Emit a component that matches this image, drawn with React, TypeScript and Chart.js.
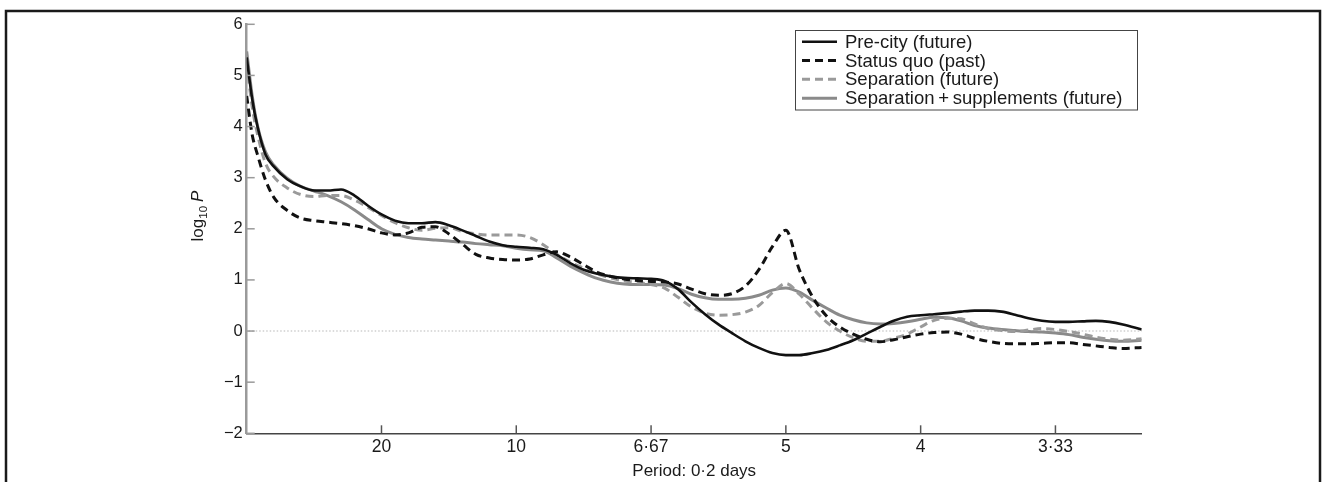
import React, { useEffect, useRef } from 'react';
import { Chart, registerables } from 'chart.js';

Chart.register(...registerables);

// Frequency grid (cycles per 0.2-day step)
const FREQ = [
  0, 0.002, 0.004, 0.007, 0.01,
  0.015, 0.02, 0.025, 0.03, 0.035, 0.04, 0.045, 0.05, 0.055, 0.06,
  0.065, 0.07, 0.075, 0.08, 0.085, 0.09, 0.095, 0.1, 0.105, 0.11,
  0.115, 0.12, 0.125, 0.13, 0.135, 0.14, 0.145, 0.15, 0.155, 0.16,
  0.165, 0.17, 0.175, 0.18, 0.185, 0.19, 0.195, 0.2, 0.205, 0.21,
  0.215, 0.22, 0.225, 0.23, 0.235, 0.24, 0.245, 0.25, 0.255, 0.26,
  0.265, 0.27, 0.275, 0.28, 0.285, 0.29, 0.295, 0.3, 0.305, 0.31,
  0.315, 0.32, 0.325,
  0.332,
];

const PRE_CITY = [
  5.35, 4.55, 4.0, 3.45, 3.22,
  2.97, 2.83, 2.75, 2.75, 2.77, 2.65, 2.45, 2.28, 2.16, 2.11,
  2.11, 2.13, 2.07, 1.97, 1.86, 1.75, 1.68, 1.65, 1.63, 1.6,
  1.49, 1.33, 1.2, 1.12, 1.07, 1.04, 1.03, 1.02, 0.98, 0.82,
  0.56, 0.33, 0.13, -0.04, -0.2, -0.33, -0.43, -0.47, -0.47, -0.43,
  -0.37, -0.28, -0.18, -0.05, 0.08, 0.2, 0.28, 0.31, 0.33, 0.35,
  0.38, 0.4, 0.4, 0.38, 0.32, 0.25, 0.2, 0.18, 0.18, 0.19,
  0.2, 0.18, 0.13,
  0.03,
];

const STATUS_QUO = [
  4.6, 3.85, 3.45, 2.95, 2.62,
  2.36, 2.21, 2.16, 2.13, 2.1, 2.06, 2.0, 1.92, 1.88, 1.92,
  2.03, 2.04, 1.9, 1.7, 1.5, 1.43, 1.4, 1.39, 1.41, 1.49,
  1.55, 1.45, 1.3, 1.15, 1.07, 1.02, 0.99, 0.97, 0.96, 0.92,
  0.82, 0.73, 0.7, 0.73, 0.88, 1.2, 1.65, 1.97, 1.2, 0.66,
  0.3, 0.08, -0.06, -0.16, -0.21, -0.17, -0.11, -0.06, -0.03, -0.02,
  -0.06, -0.14, -0.2, -0.24, -0.25, -0.25, -0.24, -0.23, -0.23, -0.26,
  -0.29, -0.32, -0.34,
  -0.32,
];

const SEPARATION = [
  5.25, 4.4, 3.85, 3.28, 3.02,
  2.8, 2.67, 2.63, 2.65, 2.65, 2.56, 2.42, 2.26, 2.12, 2.02,
  1.97, 2.01, 2.02, 1.95, 1.9, 1.88, 1.88, 1.88, 1.83, 1.69,
  1.5, 1.35, 1.23, 1.12, 1.04, 0.98, 0.95, 0.91, 0.84, 0.66,
  0.47, 0.35, 0.31, 0.32, 0.37, 0.5, 0.75, 0.93, 0.72, 0.44,
  0.18, 0.0, -0.13, -0.2, -0.2, -0.14, -0.06, 0.08, 0.21, 0.25,
  0.24, 0.14, 0.05, 0.01, -0.01, 0.02, 0.05, 0.03, -0.01, -0.06,
  -0.12, -0.16, -0.18,
  -0.15,
];

const SEPARATION_SUPP = [
  5.47, 4.62, 4.02, 3.5, 3.25,
  2.99, 2.83, 2.74, 2.65, 2.53, 2.37, 2.18, 2.0, 1.89, 1.83,
  1.8, 1.78, 1.76, 1.74, 1.71, 1.69, 1.67, 1.62, 1.59, 1.57,
  1.43, 1.27, 1.14, 1.03, 0.96, 0.92, 0.91, 0.91, 0.9, 0.83,
  0.72, 0.65, 0.62, 0.62, 0.64, 0.7, 0.8, 0.84, 0.76, 0.6,
  0.45, 0.31, 0.22, 0.16, 0.14, 0.15, 0.18, 0.23, 0.27, 0.26,
  0.2, 0.11, 0.06, 0.03, 0.01, -0.01, -0.02, -0.04, -0.07, -0.12,
  -0.16, -0.19, -0.2,
  -0.18,
];

const SERIES_LABELS = [
  'Pre-city (future)',
  'Status quo (past)',
  'Separation (future)',
  'Separation\u2009+\u2009supplements (future)',
];

const X_TICK_FREQS = [0.05, 0.1, 0.15, 0.2, 0.25, 0.3];
const X_TICK_LABELS = ['20', '10', '6\u00b767', '5', '4', '3\u00b733'];
const Y_TICKS = [-2, -1, 0, 1, 2, 3, 4, 5, 6];
const X_TITLE = 'Period: 0\u00b72 days';

const FONT = '"Liberation Sans", Arial, Helvetica, sans-serif';

const STYLES = [
  { color: '#111111', width: 2.6, dash: [] as number[] },
  { color: '#111111', width: 3, dash: [8, 5] },
  { color: '#9a9a9a', width: 3, dash: [8, 5] },
  { color: '#8a8a8a', width: 3, dash: [] as number[] },
];

const decorPlugin = {
  id: 'decor',
  beforeDraw(chart: any) {
    const { ctx, width, height } = chart;
    ctx.save();
    ctx.fillStyle = '#ffffff';
    ctx.fillRect(0, 0, width, height);
    ctx.restore();
  },
  beforeDatasetsDraw(chart: any) {
    const { ctx, chartArea, scales } = chart;
    const y0 = scales.y.getPixelForValue(0);
    ctx.save();
    ctx.strokeStyle = '#cfcfcf';
    ctx.lineWidth = 1.5;
    ctx.setLineDash([1.5, 2]);
    ctx.beginPath();
    ctx.moveTo(chartArea.left + 2, y0);
    ctx.lineTo(chartArea.right, y0);
    ctx.stroke();
    ctx.restore();
  },
  afterDraw(chart: any) {
    const { ctx, chartArea, scales } = chart;
    ctx.save();
    // inward tick marks, y axis
    ctx.strokeStyle = '#9a9a9a';
    ctx.lineWidth = 1.5;
    Y_TICKS.forEach((v) => {
      const py = scales.y.getPixelForValue(v);
      ctx.beginPath();
      ctx.moveTo(chartArea.left, py);
      ctx.lineTo(chartArea.left + 8, py);
      ctx.stroke();
    });
    // inward tick marks, x axis
    ctx.strokeStyle = '#555555';
    X_TICK_FREQS.forEach((f) => {
      const px = scales.x.getPixelForValue(f);
      ctx.beginPath();
      ctx.moveTo(px, chartArea.bottom);
      ctx.lineTo(px, chartArea.bottom - 8);
      ctx.stroke();
    });

    // y axis title: log10 P
    ctx.fillStyle = '#1a1a1a';
    ctx.translate(198, 216);
    ctx.rotate(-Math.PI / 2);
    ctx.textBaseline = 'alphabetic';
    const mainFont = `17px ${FONT}`;
    const subFont = `11.5px ${FONT}`;
    const itFont = `italic 17px ${FONT}`;
    ctx.font = mainFont;
    const wLog = ctx.measureText('log').width;
    ctx.font = subFont;
    const wSub = ctx.measureText('10').width;
    ctx.font = itFont;
    const wP = ctx.measureText('P').width;
    const gap = 4;
    const total = wLog + wSub + gap + wP;
    let x = -total / 2;
    const base = 5;
    ctx.font = mainFont;
    ctx.fillText('log', x, base);
    x += wLog;
    ctx.font = subFont;
    ctx.fillText('10', x, base + 4);
    x += wSub + gap;
    ctx.font = itFont;
    ctx.fillText('P', x, base);
    ctx.restore();

    // legend
    ctx.save();
    ctx.strokeStyle = '#444444';
    ctx.lineWidth = 1;
    ctx.strokeRect(795.5, 30.5, 342, 79.5);
    const rows = [41.7, 60.5, 79.3, 98.2];
    SERIES_LABELS.forEach((label, i) => {
      const st = STYLES[i];
      ctx.strokeStyle = st.color;
      ctx.lineWidth = st.width;
      ctx.setLineDash(st.dash);
      ctx.beginPath();
      ctx.moveTo(802, rows[i]);
      ctx.lineTo(837, rows[i]);
      ctx.stroke();
      ctx.setLineDash([]);
      ctx.fillStyle = '#1a1a1a';
      ctx.font = `18.5px ${FONT}`;
      ctx.textBaseline = 'middle';
      ctx.textAlign = 'left';
      ctx.fillText(label, 845, rows[i] + 1);
    });
    ctx.restore();

    // figure frame
    ctx.save();
    ctx.strokeStyle = '#1a1a1a';
    ctx.lineWidth = 2.5;
    ctx.strokeRect(6, 11, 1314, 520);
    ctx.restore();
  },
};

export default function App() {
  const ref = useRef<HTMLCanvasElement | null>(null);

  useEffect(() => {
    if (!ref.current) return;
    const series = [PRE_CITY, STATUS_QUO, SEPARATION, SEPARATION_SUPP];
    const chart = new Chart(ref.current, {
      type: 'line',
      data: {
        datasets: series.map((vals, i) => ({
          label: SERIES_LABELS[i],
          data: FREQ.map((f, j) => ({ x: f, y: vals[j] })),
          borderColor: STYLES[i].color,
          borderWidth: STYLES[i].width,
          borderDash: STYLES[i].dash,
          pointRadius: 0,
          fill: false,
          cubicInterpolationMode: 'monotone' as const,
        })),
      },
      options: {
        responsive: false,
        animation: false,
        devicePixelRatio: 1,
        layout: { padding: { left: 0, right: 181.3, top: 24.3, bottom: 0 } },
        plugins: {
          legend: { display: false },
          tooltip: { enabled: false },
        },
        scales: {
          x: {
            type: 'linear',
            min: 0,
            max: 0.332,
            afterFit: (s: any) => { s.height = 48.7; },
            afterBuildTicks: (s: any) => { s.ticks = X_TICK_FREQS.map((v) => ({ value: v })); },
            grid: { display: false, drawTicks: false },
            border: { display: true, color: '#444444', width: 1.5 },
            ticks: {
              padding: 3,
              color: '#1a1a1a',
              font: { family: FONT, size: 17.5 },
              maxRotation: 0,
              autoSkip: false,
              callback: (v: any) => {
                const idx = X_TICK_FREQS.findIndex((f) => Math.abs(f - Number(v)) < 1e-6);
                return idx >= 0 ? X_TICK_LABELS[idx] : '';
              },
            },
            title: {
              display: true,
              text: X_TITLE,
              color: '#1a1a1a',
              font: { family: FONT, size: 17 },
              padding: { top: 0, bottom: 0 },
            },
          },
          y: {
            type: 'linear',
            min: -2,
            max: 6,
            afterFit: (s: any) => { s.width = 246.7; },
            afterBuildTicks: (s: any) => { s.ticks = Y_TICKS.map((v) => ({ value: v })); },
            grid: { display: false, drawTicks: false },
            border: { display: true, color: '#9a9a9a', width: 2.5 },
            ticks: {
              padding: 4,
              color: '#1a1a1a',
              font: { family: FONT, size: 16.5 },
              autoSkip: false,
              callback: (v: any) => {
                const n = Number(v);
                return n < 0 ? '\u2212' + Math.abs(n) : String(n);
              },
            },
          },
        },
      },
      plugins: [decorPlugin],
    });
    return () => chart.destroy();
  }, []);

  return (
    <div style={{ position: 'absolute', left: 0, top: 0, width: 1323, height: 482 }}>
      <canvas ref={ref} width={1323} height={482} style={{ display: 'block' }} />
    </div>
  );
}
